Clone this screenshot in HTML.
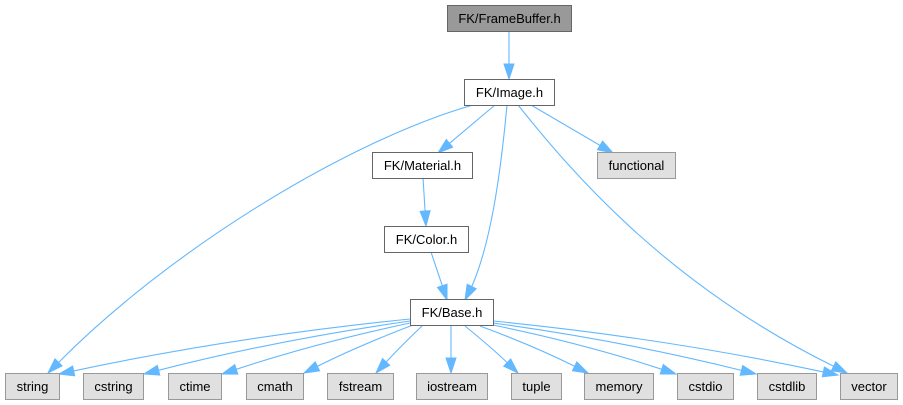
<!DOCTYPE html>
<html>
<head>
<meta charset="utf-8">
<style>
html,body{margin:0;padding:0;background:#fff;}
svg{display:block;}
text{font-family:"Liberation Sans",Arial,sans-serif;font-size:13px;fill:#000;text-anchor:middle;}
.e{fill:none;stroke:#63b8ff;stroke-width:1.1;}
.h{fill:#63b8ff;stroke:#63b8ff;stroke-width:1;}
.w{fill:#fff;stroke:#666;stroke-width:1;}
.g{fill:#e0e0e0;stroke:#999;stroke-width:1;}
.r{fill:#999;stroke:#666;stroke-width:1;}
</style>
</head>
<body>
<svg width="903" height="405" viewBox="0 0 903 405" xmlns="http://www.w3.org/2000/svg">

<!-- edges -->
<path class="e" d="M509,31 L509,64"/>
<polygon class="h" points="504,64 509,79 514,64"/>

<path class="e" d="M495,105 L449.5,143.3"/>
<polygon class="h" points="446.3,139.5 438,153 452.7,147.2"/>

<path class="e" d="M531,105 L600,145.4"/>
<polygon class="h" points="597.5,149.7 613,153 602.6,141.1"/>

<path class="e" d="M473,105 C350,140 172,248 58.6,362.4"/>
<polygon class="h" points="55,358.8 48,373 62.1,365.9"/>

<path class="e" d="M507,105 C500,180 490,245 471.7,286.6"/>
<polygon class="h" points="467.2,284.3 465,300 476.2,288.8"/>

<path class="e" d="M518,105 C570,170 665,283 833.6,366.3"/>
<polygon class="h" points="831.3,370.8 847,373 835.8,361.8"/>

<path class="e" d="M423,178 L425.1,211"/>
<polygon class="h" points="420.1,211.3 426,226 430.1,210.7"/>

<path class="e" d="M431,252 L442.3,285.8"/>
<polygon class="h" points="437.5,287.4 447,300 447,284.2"/>

<path class="e" d="M410,319 Q233,337 73.7,370.9"/>
<polygon class="h" points="72.6,366 59,374 74.7,375.8"/>

<path class="e" d="M410,321 Q277,340 158.5,370.3"/>
<polygon class="h" points="157.3,365.4 144,374 159.8,375.1"/>

<path class="e" d="M410,323 Q316,343 236.3,369.3"/>
<polygon class="h" points="234.7,364.6 222,374 237.8,374.1"/>

<path class="e" d="M413,325 Q358,346 317.4,366.3"/>
<polygon class="h" points="315.2,361.8 304,373 319.6,370.8"/>

<path class="e" d="M422,326 Q399,348 386.2,362"/>
<polygon class="h" points="382.5,358.6 376,373 389.8,365.3"/>

<path class="e" d="M451,326 L451,358"/>
<polygon class="h" points="446,358 451,373 456,358"/>

<path class="e" d="M465,326 Q492,348 507.2,362.6"/>
<polygon class="h" points="503.7,366.2 518,373 510.7,359"/>

<path class="e" d="M480,326 Q534,346 574.6,366.3"/>
<polygon class="h" points="572.4,370.8 588,373 576.8,361.8"/>

<path class="e" d="M493,325 Q585,344 661.8,369.3"/>
<polygon class="h" points="660.2,374 676,374 663.3,364.6"/>

<path class="e" d="M493,323 Q624,341 741.5,370.4"/>
<polygon class="h" points="740.2,375.2 756,374 742.7,365.5"/>

<path class="e" d="M493,321 Q665,338 823.3,371.9"/>
<polygon class="h" points="822.3,376.8 838,375 824.4,367"/>

<!-- nodes -->
<rect class="r" x="447.5" y="5.5" width="124" height="26"/>
<text x="509.5" y="23">FK/FrameBuffer.h</text>

<rect class="w" x="464.5" y="79.5" width="90" height="26"/>
<text x="509.5" y="97">FK/Image.h</text>

<rect class="w" x="372.5" y="152.5" width="100" height="26"/>
<text x="422.5" y="170">FK/Material.h</text>

<rect class="g" x="597.5" y="152.5" width="78" height="26"/>
<text x="636.5" y="170">functional</text>

<rect class="w" x="384.5" y="226.5" width="84" height="26"/>
<text x="426.5" y="244">FK/Color.h</text>

<rect class="w" x="410.5" y="299.5" width="83" height="26"/>
<text x="452" y="317">FK/Base.h</text>

<rect class="g" x="5.5" y="373.5" width="54" height="26"/>
<text x="32.5" y="391">string</text>

<rect class="g" x="83.5" y="373.5" width="60" height="26"/>
<text x="113.5" y="391">cstring</text>

<rect class="g" x="168.5" y="373.5" width="53" height="26"/>
<text x="195" y="391">ctime</text>

<rect class="g" x="246.5" y="373.5" width="57" height="26"/>
<text x="275" y="391">cmath</text>

<rect class="g" x="327.5" y="373.5" width="66" height="26"/>
<text x="360.5" y="391">fstream</text>

<rect class="g" x="416.5" y="373.5" width="71" height="26"/>
<text x="452" y="391">iostream</text>

<rect class="g" x="511.5" y="373.5" width="50" height="26"/>
<text x="536.5" y="391">tuple</text>

<rect class="g" x="584.5" y="373.5" width="69" height="26"/>
<text x="619" y="391">memory</text>

<rect class="g" x="677.5" y="373.5" width="56" height="26"/>
<text x="705.5" y="391">cstdio</text>

<rect class="g" x="757.5" y="373.5" width="59" height="26"/>
<text x="787" y="391">cstdlib</text>

<rect class="g" x="840.5" y="373.5" width="57" height="26"/>
<text x="869" y="391">vector</text>
</svg>
</body>
</html>
